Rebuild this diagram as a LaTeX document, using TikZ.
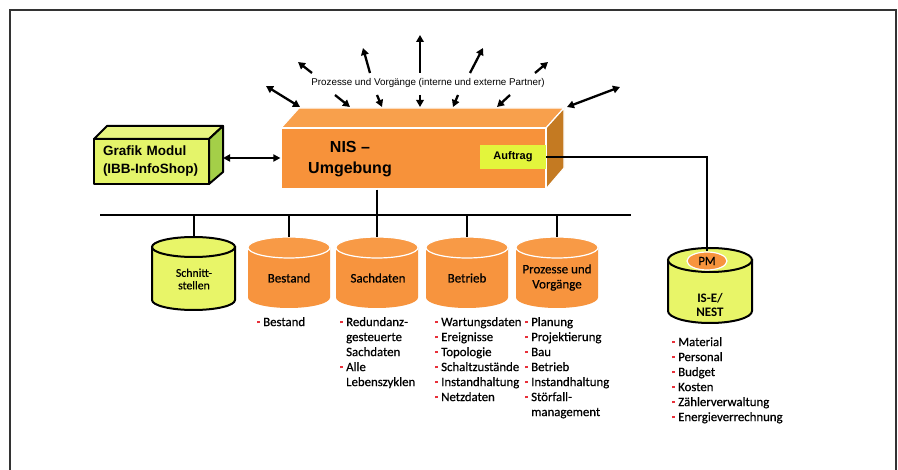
\documentclass[tikz,border=0pt]{standalone}
\usepackage{fontspec}
\setmainfont{Liberation Sans}
\newfontfamily\listfont[FakeBold=0.6]{Carlito}
\newfontfamily\listbold{Carlito Bold}
\usetikzlibrary{arrows.meta,shapes.geometric}
\definecolor{orfront}{HTML}{F7923A}
\definecolor{ortop}{HTML}{F8A04C}
\definecolor{orside}{HTML}{C47A22}
\definecolor{orcyl}{HTML}{F7943E}
\definecolor{orcyltop}{HTML}{F89A46}
\definecolor{ylfront}{HTML}{E4F46A}
\definecolor{yltop}{HTML}{E8F580}
\definecolor{ylside}{HTML}{A4CF48}
\definecolor{ylauf}{HTML}{E3F53C}
\definecolor{ylcyl}{HTML}{E8F568}
\definecolor{bred}{HTML}{E8303A}
\definecolor{framecol}{HTML}{333333}
\newcommand\lbul{\makebox[6pt][l]{\textcolor{bred}{\rule[2.6pt]{2.8pt}{2.8pt}}}}
\newcommand\lind{\hspace*{6pt}}
\newcommand\mycyl[8]{%
  \pgfmathsetmacro\cyltopc{#3+#6}%
  \pgfmathsetmacro\cylbotc{#4-#6}%
  \path[#7] (#2-#5,\cyltopc) -- (#2-#5,\cylbotc) arc[start angle=180,end angle=360,x radius=#5pt,y radius=#6pt] -- (#2+#5,\cyltopc) -- cycle;
  \path[#8] (#2,\cyltopc) ellipse[x radius=#5pt,y radius=#6pt];
  \coordinate (#1-top) at (#2,#3);
}
\begin{document}
\begin{tikzpicture}[x=1pt,y=-1pt,
  conn/.style={line width=2pt, draw=black},
  arr/.style={line width=2.3pt, -{Triangle[length=7pt,width=7.5pt]}},
  darr/.style={line width=2.3pt, {Triangle[length=7pt,width=7.5pt]}-{Triangle[length=7pt,width=7.5pt]}},
  listnode/.style={anchor=north west, inner sep=0pt, align=left, font=\listfont\fontsize{12.8}{15}\selectfont},
  cyllabel/.style={align=center, inner sep=0pt, font=\listfont\fontsize{13}{15}\selectfont, text=black},
  orbody/.style={fill=orcyl},
  ortopst/.style={fill=orcyltop, draw=white, line width=1.2pt},
  ylbody/.style={fill=ylcyl, draw=black, line width=2pt},
  face/.style={line width=2pt, draw=black, line join=round},
  nisface/.style={draw=white, line width=1.2pt, line join=round}
  ]
\useasboundingbox (0,0) rectangle (898,470);
\fill[white] (0,0) rectangle (898,470);
\draw[line width=2pt, framecol] (9.5,476) -- (9.5,10.5) -- (895.5,10.5) -- (895.5,476);

% Grafik Modul box
\fill[yltop, face] (94,139) -- (107,126) -- (223,126) -- (209,139) -- cycle;
\fill[ylside, face] (209,139) -- (223,126) -- (223,172) -- (209,184) -- cycle;
\node[face, fill=ylfront, minimum width=115pt, minimum height=45pt, inner sep=0pt, text width=97pt, align=left, font=\bfseries\fontsize{13.5}{18}\selectfont] (grafik) at (151.5,161.5) {Grafik Modul\\(IBB-InfoShop)};

% NIS box
\fill[ortop, nisface] (281,128) -- (299,108) -- (564,108) -- (546,128) -- cycle;
\fill[orside, nisface] (546,128) -- (564,108) -- (564,168) -- (546,189) -- cycle;
\node[fill=orfront, nisface, minimum width=265pt, minimum height=61pt, inner sep=0pt] (nis) at (413.5,158.5) {};
\node[font=\bfseries\fontsize{16}{21}\selectfont, align=center, inner sep=0pt] (nislabel) at (350,159) {NIS --\\Umgebung};
\node[fill=ylauf, minimum width=66pt, minimum height=24pt, inner sep=0pt, font=\bfseries\fontsize{11}{13}\selectfont] (auftrag) at (513,157) {Auftrag};

% Grafik <-> NIS
\coordinate (gside) at (223,158);
\draw[line width=1.8pt, {Triangle[length=7pt,width=7pt]}-{Triangle[length=7pt,width=7pt]}] (gside) -- (nis.west |- gside);

% top label and arrows
\node[font=\fontsize{9.8}{11}\selectfont, inner sep=0pt] (proc) at (428,83) {Prozesse und Vorgänge (interne und externe Partner)};
\foreach \i/\ax/\ay/\bx/\by in {1/312/73/298/62, 2/370/73/363/48, 3/420/73/420/35, 4/470/73/483/48, 5/535/73/548/62}{
  \coordinate (os\i) at (\ax,\ay);
  \coordinate (oe\i) at (\bx,\by);
  \draw[arr] (os\i) -- (oe\i);
}
\foreach \i/\ax/\ay/\bx/\by in {1/335/95/350/107, 2/377/95/382/107, 3/420/95/420/107, 4/458/95/453/107, 5/510/95/497/107}{
  \coordinate (is\i) at (\ax,\ay);
  \coordinate (ie\i) at (\bx,\by);
  \draw[arr] (is\i) -- (ie\i);
}
\coordinate (dl1) at (266,86); \coordinate (dl2) at (300,107);
\coordinate (dr1) at (567,107); \coordinate (dr2) at (620,87);
\draw[darr] (dl1) -- (dl2);
\draw[darr] (dr1) -- (dr2);

% cylinders
\mycyl{schnitt}{193.5}{237}{310}{41.5}{10}{ylbody}{ylbody}
\mycyl{bestand}{289}{237}{308}{41}{10.5}{orbody}{ortopst}
\mycyl{sach}{377}{237}{308}{41}{10.5}{orbody}{ortopst}
\mycyl{betrieb}{467}{237}{308}{41}{10.5}{orbody}{ortopst}
\mycyl{proz}{557}{237}{308}{41}{10.5}{orbody}{ortopst}
\mycyl{ise}{710}{248}{323}{42}{12}{ylbody}{ylbody}

\node[cyllabel, font=\listfont\fontsize{11.8}{12.5}\selectfont] (schnittlabel) at (194,279) {Schnitt-\\stellen};
\node[cyllabel] (bestandlabel) at (289,278) {Bestand};
\node[cyllabel] (sachlabel) at (378,278) {Sachdaten};
\node[cyllabel] (betrieblabel) at (467,278) {Betrieb};
\node[cyllabel] (prozlabel) at (557,277.5) {Prozesse und\\Vorgänge};
\node[cyllabel, font=\listbold\fontsize{13}{14}\selectfont] (iselabel) at (710,305) {IS-E/\\NEST};
\node[ellipse, fill=orcyl, draw=white, line width=1.2pt, minimum width=40pt, minimum height=18pt, inner sep=0pt, font=\listfont\fontsize{12.5}{13}\selectfont] (pm) at (707,261) {PM};

% bus and drops
\coordinate (busL) at (100,215);
\coordinate (busR) at (631,215);
\draw[conn] (busL) -- (busR);
\draw[conn] (nis.south -| sach-top) -- (sach-top |- busL);
\foreach \c in {schnitt,bestand,sach,betrieb,proz}{
  \draw[conn] (\c-top |- busL) -- (\c-top);
}
\draw[conn] (auftrag.east) -| (pm.north);

% lists
\node[listnode] (bestandlist) at (257,317) {\lbul Bestand};
\node[listnode] (sachlist) at (340,317) {\lbul Redundanz-\\\lind gesteuerte\\\lind Sachdaten\\\lbul Alle\\\lind Lebenszyklen};
\node[listnode] (betrieblist) at (435,317) {\lbul Wartungsdaten\\\lbul Ereignisse\\\lbul Topologie\\\lbul Schaltzustände\\\lbul Instandhaltung\\\lbul Netzdaten};
\node[listnode] (prozlist) at (525,317) {\lbul Planung\\\lbul Projektierung\\\lbul Bau\\\lbul Betrieb\\\lbul Instandhaltung\\\lbul Störfall-\\\lind management};
\node[listnode] (iselist) at (672,337) {\lbul Material\\\lbul Personal\\\lbul Budget\\\lbul Kosten\\\lbul Zählerverwaltung\\\lbul Energieverrechnung};
\end{tikzpicture}
\end{document}
